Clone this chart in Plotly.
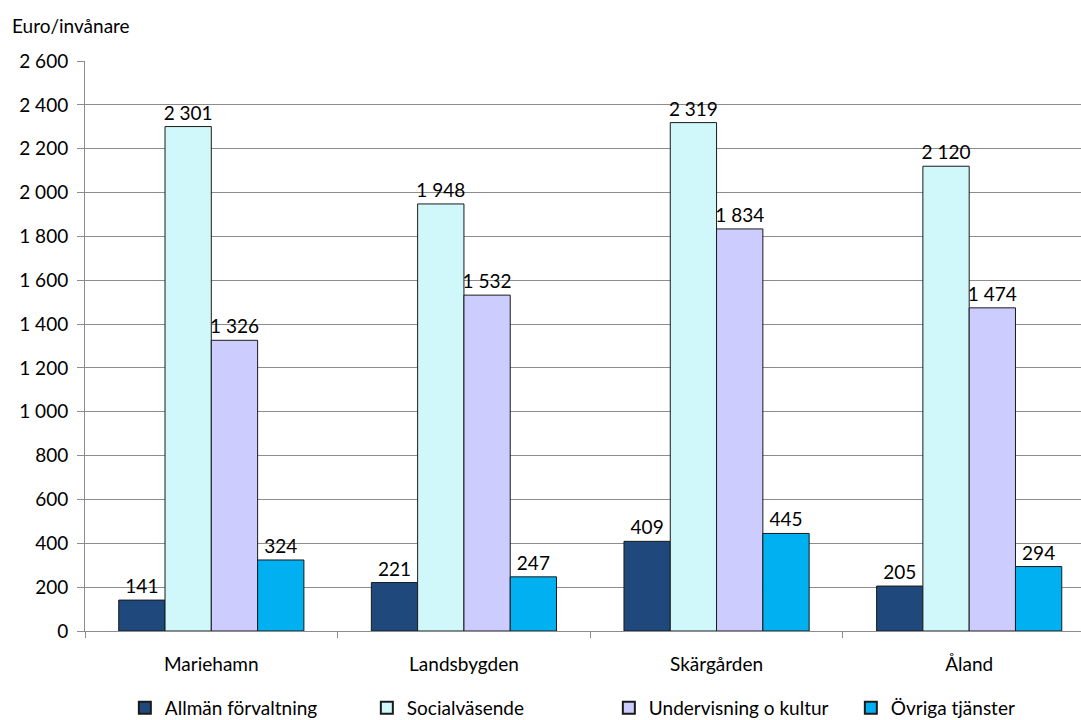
import plotly.graph_objects as go

categories = ["Mariehamn", "Landsbygden", "Skärgården", "Åland"]
series_names = ["Allmän förvaltning", "Socialväsende", "Undervisning o kultur", "Övriga tjänster"]
allman = [141, 221, 409, 205]
social = [2301, 1948, 2319, 2120]
undervisning = [1326, 1532, 1834, 1474]
ovriga = [324, 247, 445, 294]
colors = ["#1F497D", "#D0F8FA", "#CCCCFF", "#00B0F0"]
y_title = "Euro/invånare"

FONT = "Lato"
FS = 19
fig = go.Figure()
for name, vals, col in zip(series_names, [allman, social, undervisning, ovriga], colors):
    fig.add_trace(go.Bar(
        x=categories, y=vals, name=name,
        marker=dict(color=col, line=dict(color="#1a1a1a", width=1)),
        texttemplate="%{y:,d}", textposition="outside", textangle=0,
        constraintext="none", cliponaxis=False,
        textfont=dict(family=FONT, size=FS, color="black"),
    ))

fig.update_layout(
    width=1081, height=720,
    barmode="group", bargap=0.267, bargroupgap=0,
    separators=", ",
    plot_bgcolor="white", paper_bgcolor="white",
    margin=dict(l=85, r=0, t=61, b=89, autoexpand=False),
    font=dict(family=FONT, size=FS, color="black"),
    xaxis=dict(
        range=[-0.5, 3.4426], showline=True, linecolor="#8c8c8c", linewidth=1,
        tickson="boundaries", ticks="outside", ticklen=6, tickcolor="#8c8c8c",
        showgrid=False, tickfont=dict(family=FONT, size=FS),
        ticklabelstandoff=16, automargin=False,
    ),
    yaxis=dict(
        range=[0, 2600], dtick=200, tickformat=",d",
        showline=True, linecolor="#8c8c8c", linewidth=1,
        ticks="outside", ticklen=7, tickcolor="#8c8c8c",
        showgrid=True, gridcolor="#8c8c8c", gridwidth=1,
        zeroline=False, tickfont=dict(family=FONT, size=FS),
        ticklabelstandoff=5, automargin=False,
    ),
    legend=dict(
        orientation="h", x=0.04, xanchor="left", y=-0.135, yanchor="middle",
        entrywidth=197, entrywidthmode="pixels", font=dict(family=FONT, size=FS),
        itemsizing="constant", tracegroupgap=0,
    ),
    showlegend=True,
    annotations=[dict(
        text=y_title, xref="paper", yref="paper", x=-0.0753, y=1.063,
        xanchor="left", yanchor="middle", showarrow=False,
        font=dict(family=FONT, size=FS),
    )],
)

fig.write_html(
    "out.html",
    config={"displayModeBar": False},
    post_script="document.body.style.margin='0';document.body.style.overflow='hidden';",
)
